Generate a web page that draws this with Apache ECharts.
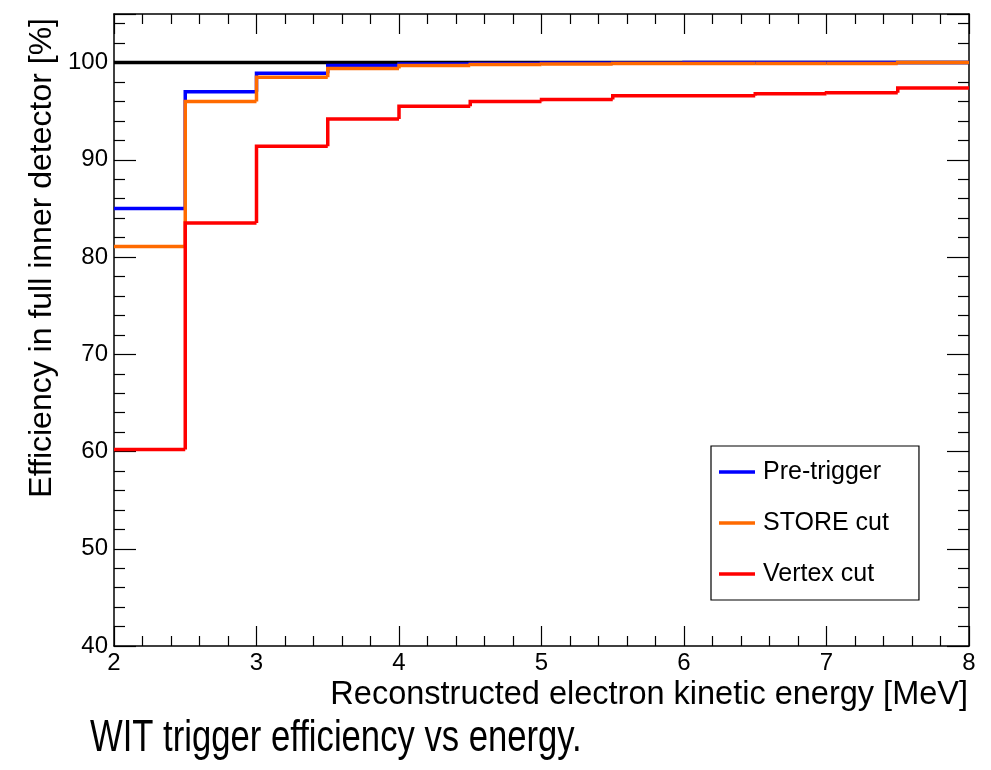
<!DOCTYPE html>
<html>
<head>
<meta charset="utf-8">
<script src="https://cdn.jsdelivr.net/npm/echarts@6/dist/echarts.min.js"></script>
<style>
html,body{margin:0;padding:0;background:#fff;}
#c{width:991px;height:770px;}
</style>
</head>
<body>
<div id="c"></div>
<script>
// Bin edges (MeV)
const binEdges = [2, 2.5, 3, 3.5, 4, 4.5, 5, 5.5, 6, 6.5, 7, 7.5, 8];
// Efficiency per bin [%]
const preTrigger = [85.0, 97.0, 98.9, 99.7, 99.85, 99.9, 99.95, 99.95, 100, 100, 100, 100];
const storeCut   = [81.1, 96.0, 98.5, 99.4, 99.7, 99.8, 99.85, 99.9, 99.9, 99.9, 99.9, 100];
const vertexCut  = [60.2, 83.5, 91.4, 94.2, 95.5, 96.0, 96.2, 96.6, 96.6, 96.8, 96.9, 97.4];
const referenceLine = [100, 100];
const seriesNames = ['Pre-trigger', 'STORE cut', 'Vertex cut'];
const xTicks = [2, 3, 4, 5, 6, 7, 8];
const yTicks = [40, 50, 60, 70, 80, 90, 100];

const FONT = '"Liberation Sans", Arial, Helvetica, sans-serif';

// each bin: [lowEdge, highEdge, value, previousBinValue]
function binData(vals) {
  return vals.map((v, i) => [binEdges[i], binEdges[i + 1], v, i > 0 ? vals[i - 1] : v]);
}

const chart = echarts.init(document.getElementById('c'), null, {renderer: 'canvas'});

function xAx(pos, showLabel) {
  return {
    type: 'value', position: pos, min: xTicks[0], max: xTicks[xTicks.length - 1], interval: 1,
    axisLine: {show: true, onZero: false, lineStyle: {color: '#000', width: 1.5}},
    axisTick: {show: true, inside: true, length: 20, lineStyle: {color: '#000', width: 1.2}},
    minorTick: {show: true, splitNumber: 5, length: 10, lineStyle: {color: '#000', width: 1.2}},
    splitLine: {show: false},
    axisLabel: {show: showLabel, fontFamily: FONT, fontSize: 24, color: '#000', margin: 5,
      showMinLabel: true, showMaxLabel: true, hideOverlap: false}
  };
}
function yAx(pos, showLabel) {
  return {
    type: 'value', position: pos, min: 40, max: 105, interval: 10,
    axisLine: {show: true, onZero: false, lineStyle: {color: '#000', width: 1.5}},
    axisTick: {show: true, inside: true, length: 22, lineStyle: {color: '#000', width: 1.2}},
    minorTick: {show: true, splitNumber: 5, length: 11, lineStyle: {color: '#000', width: 1.2}},
    splitLine: {show: false},
    axisLabel: {show: showLabel, fontFamily: FONT, fontSize: 24, color: '#000', margin: 6,
      showMinLabel: true, showMaxLabel: false,
      formatter: v => (yTicks.indexOf(v) >= 0 ? String(v) : '')}
  };
}

function histSeries(name, vals, color, z) {
  return {
    name: name, type: 'custom', data: binData(vals), z: z,
    encode: {x: [0, 1], y: [2, 3]},
    itemStyle: {color: color},
    animation: false,
    renderItem: function (params, api) {
      const x0 = api.value(0), x1 = api.value(1), v = api.value(2), pv = api.value(3);
      const pts = [api.coord([x0, pv]), api.coord([x0, v]), api.coord([x1, v])];
      return {
        type: 'polyline',
        shape: {points: pts},
        style: {stroke: color, lineWidth: 3.5, fill: null, lineJoin: 'miter', lineCap: 'butt'}
      };
    }
  };
}

const option = {
  animation: false,
  backgroundColor: '#fff',
  grid: {left: 114, right: 22, top: 14, bottom: 124, containLabel: false},
  xAxis: [xAx('bottom', true), xAx('top', false)],
  yAxis: [yAx('left', true), yAx('right', false)],
  legend: {
    data: seriesNames, orient: 'vertical', left: 711, top: 446,
    icon: 'rect', itemWidth: 36, itemHeight: 3.5, itemGap: 25,
    padding: [13, 30, 13, 8],
    borderColor: '#000', borderWidth: 1.2, backgroundColor: '#fff',
    textStyle: {fontFamily: FONT, fontSize: 25, color: '#000', lineHeight: 26, padding: [0, 0, 0, 3]},
    selectedMode: false
  },
  series: [
    {name: 'ref', type: 'line', z: 1, data: [[binEdges[0], referenceLine[0]], [binEdges[binEdges.length-1], referenceLine[1]]],
     showSymbol: false, symbol: 'none', lineStyle: {color: '#000', width: 3.5}, silent: true},
    histSeries(seriesNames[0], preTrigger, '#0000ff', 2),
    histSeries(seriesNames[1], storeCut, '#ff6a00', 3),
    histSeries(seriesNames[2], vertexCut, '#ff0000', 4)
  ],
  graphic: [
    {type: 'text', x: 42, y: 18, rotation: Math.PI / 2,
     style: {text: 'Efficiency in full inner detector [%]', font: '32px ' + FONT, fill: '#000',
       textAlign: 'right', textVerticalAlign: 'middle', align: 'right', verticalAlign: 'middle'}},
    {type: 'text', x: 968, y: 695,
     style: {text: 'Reconstructed electron kinetic energy [MeV]', font: '32.5px ' + FONT, fill: '#000',
       textAlign: 'right', textVerticalAlign: 'middle', align: 'right', verticalAlign: 'middle'}},
    {type: 'text', x: 90, y: 739, scaleX: 0.77, scaleY: 1,
     style: {text: 'WIT trigger efficiency vs energy.', font: '45px ' + FONT, fill: '#000',
       textAlign: 'left', textVerticalAlign: 'middle', align: 'left', verticalAlign: 'middle'}}
  ]
};
chart.setOption(option);
</script>
</body>
</html>
